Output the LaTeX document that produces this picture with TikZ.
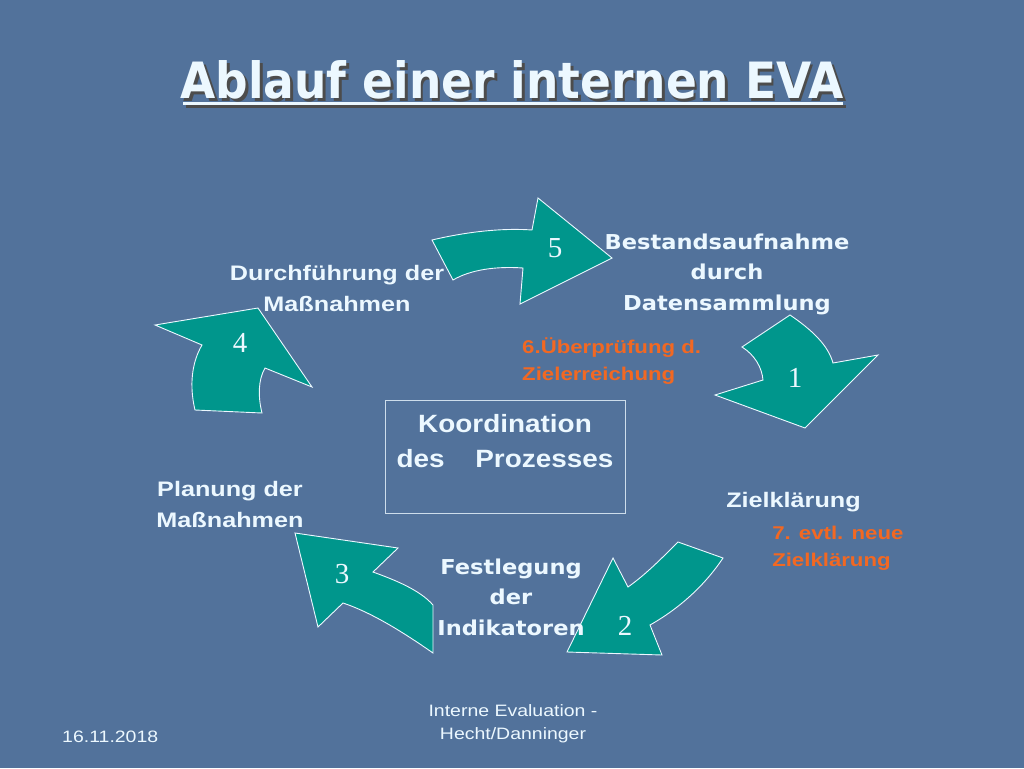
\documentclass[tikz,border=0pt]{standalone}
\usepackage{fontspec}
\setmainfont{Liberation Sans}
\newfontfamily\dejavu{DejaVu Sans}
\newfontfamily\serifnum{Liberation Serif}
\usetikzlibrary{positioning}
\definecolor{slide}{RGB}{82,114,155}
\definecolor{teal}{RGB}{0,150,140}
\definecolor{paper}{RGB}{236,248,255}
\definecolor{orangetxt}{RGB}{242,104,34}
\tikzstyle{curved} = [fill=teal, draw=paper, line width=0.9pt, line join=miter]
\tikzstyle{label} = [text=paper, font=\bfseries\fontsize{21}{31}\selectfont, xscale=1.2, align=center, inner sep=0pt]
\tikzstyle{wide} = [text=paper, font=\dejavu\bfseries\fontsize{20.5}{30.5}\selectfont, xscale=1.1, align=center, inner sep=0pt]
\tikzstyle{note} = [text=orangetxt, font=\bfseries\fontsize{18.5}{27}\selectfont, xscale=1.2, align=left, inner sep=0pt, anchor=west]
\tikzstyle{num} = [text=paper, font=\serifnum\fontsize{29}{29}\selectfont, inner sep=0pt]
\tikzstyle{foot} = [text=paper, font=\fontsize{16.5}{23}\selectfont, xscale=1.18, align=center, inner sep=0pt]

\begin{document}
\begin{tikzpicture}[x=1pt, y=-1pt]
    \useasboundingbox (0,0) rectangle (1024,768);
    \fill[slide] (0,0) rectangle (1024,768);

    % Title
    \node[text=paper, font=\dejavu\bfseries\fontsize{50}{56}\selectfont, xscale=0.91, inner sep=0pt] (title) at (512,80)
        {\makebox[0pt][l]{\hspace{3pt}\raisebox{-3pt}[0pt][0pt]{\color{black!70}Ablauf einer internen EVA}}Ablauf einer internen EVA};
    \draw[black!70, line width=3pt] (186,106) -- (846,106);
    \draw[paper, line width=3pt] (183,103) -- (843,103);

    % Arrows
    \draw[curved] (432,240) .. controls (470,231) and (505,228) .. (532,230) -- (538,198) -- (612,258) -- (520,304) -- (523,268) .. controls (495,266) and (470,270) .. (453,280) -- cycle;
    \draw[curved] (742,347) -- (790,315) .. controls (812,330) and (828,345) .. (833,363) -- (878,355) -- (805,428) -- (715,395) -- (763,380) .. controls (762,368) and (755,355) .. (742,347) -- cycle;
    \draw[curved] (678,542) .. controls (660,560) and (645,575) .. (628,587) -- (613,558) -- (567,652) -- (662,655) -- (650,625) .. controls (680,608) and (705,585) .. (723,558) -- cycle;
    \draw[curved] (295,533) -- (398,548) -- (373,572) .. controls (395,580) and (420,590) .. (433,605) -- (433,653) .. controls (400,630) and (370,612) .. (343,603) -- (318,627) -- cycle;
    \draw[curved] (195,410) .. controls (189,385) and (192,362) .. (202,345) -- (155,325) -- (258,308) -- (312,387) -- (265,368) .. controls (258,380) and (258,397) .. (262,413) -- cycle;

    % Numbers
    \node[num] (n5) at (555,248) {5};
    \node[num] (n1) at (795,378) {1};
    \node[num] (n2) at (625,626) {2};
    \node[num] (n3) at (342,574) {3};
    \node[num] (n4) at (240,343) {4};

    % Steps
    \node[wide] (bestand) at (727,274) {Bestandsaufnahme\\durch\\Datensammlung};
    \node[wide] (festlegung) at (511,597) {Festlegung\\der\\Indikatoren};
    \node[label] (durch) at (337,288) {Durchführung der\\Maßnahmen};
    \node[label] (planung) at (230,504) {Planung der\\Maßnahmen};
    \node[label, anchor=west] (ziel) at (726,502) {Zielklärung};
    \node[note] (pruef) at (522,361) {6.Überprüfung d.\\Zielerreichung};
    \node[note] (neue) at (772,548) {7. evtl. neue\\Zielklärung};

    % Center box
    \draw[paper!80!slide, line width=1pt] (385,400) rectangle (625,513);
    \node[label, font=\bfseries\fontsize{25}{35}\selectfont, xscale=0.93] (koord) at (505,441) {Koordination\\des\hspace{1.1em}Prozesses};

    % Footer
    \node[foot, anchor=west] (datum) at (62,737) {16.11.2018};
    \node[foot] (autor) at (513,724) {Interne Evaluation -\\Hecht/Danninger};
\end{tikzpicture}
\end{document}
